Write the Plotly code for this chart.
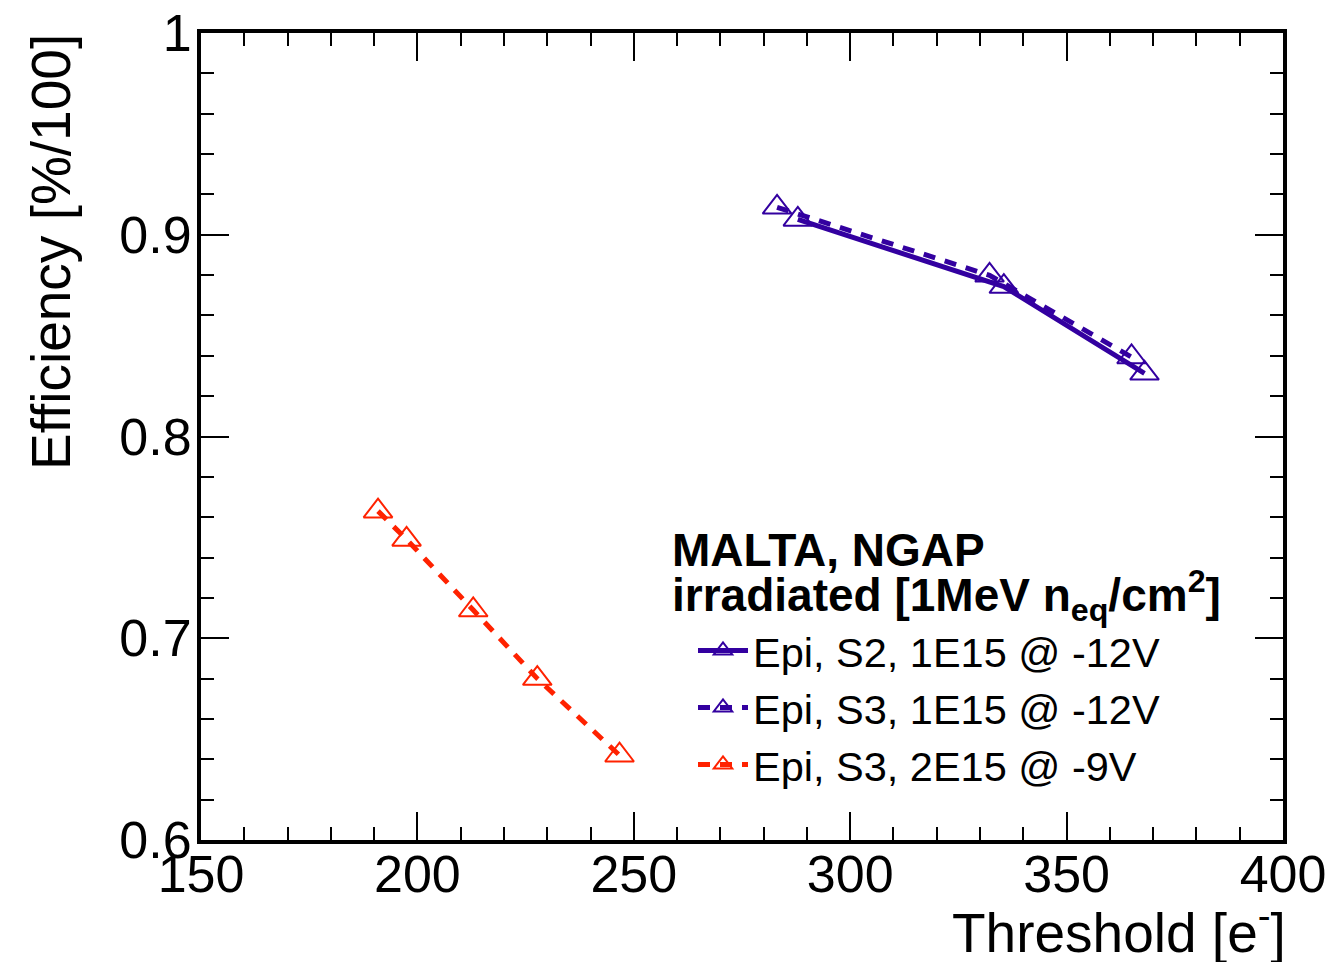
import plotly.graph_objects as go

# ---- data ----
s2_x = [287.9, 335.5, 368.0]
s2_y = [0.9076, 0.8743, 0.8313]
s3_x = [283.1, 332.2, 365.0]
s3_y = [0.9136, 0.8799, 0.8394]
r_x = [190.9, 197.5, 212.9, 227.7, 246.7]
r_y = [0.763, 0.749, 0.714, 0.680, 0.642]

names = ["Epi, S2, 1E15 @ -12V", "Epi, S3, 1E15 @ -12V", "Epi, S3, 2E15 @ -9V"]
x_ticks = [150, 200, 250, 300, 350, 400]
y_ticks = [0.6, 0.7, 0.8, 0.9, 1.0]
y_ticktext = ["0.6", "0.7", "0.8", "0.9", "1"]

BLUE = "#3300a0"
RED = "#ff2200"
FONT = "Liberation Sans, Arial, Helvetica, sans-serif"

W, H = 1338, 962
L, R, T, B = 201, 55, 33, 122
PW, PH = W - L - R, H - T - B


def px_x(p):
    return (p - L) / PW


def px_y(p):
    return (H - B - p) / PH


fig = go.Figure()
series = [
    (s3_x, s3_y, BLUE, "12px,10px", names[1], "g2"),
    (s2_x, s2_y, BLUE, "solid", names[0], "g1"),
    (r_x, r_y, RED, "12px,10px", names[2], "g3"),
]
for xs, ys, col, dash, nm, grp in series:
    fig.add_trace(go.Scatter(
        x=xs, y=ys, mode="lines+markers", name=nm, legendgroup=grp,
        line=dict(color=col, width=5, dash=dash),
        marker=dict(symbol="triangle-up-open", size=25, color=col,
                    line=dict(color=col, width=2)),
    ))

# legend order: S2, S3 (1E15), S3 (2E15)
fig.data[0].legendrank = 2
fig.data[1].legendrank = 1
fig.data[2].legendrank = 3

axis_common = dict(
    showline=True, linewidth=4, linecolor="black", mirror="allticks",
    ticks="inside", ticklen=28, tickwidth=1.5, tickcolor="black",
    showgrid=False, zeroline=False, automargin=False,
    tickfont=dict(family=FONT, size=52, color="black"),
)

fig.update_xaxes(
    range=[150, 400], tickvals=x_ticks, ticklabelstandoff=-14,
    minor=dict(dtick=10, ticks="inside", ticklen=13, tickwidth=1.5, tickcolor="black", showgrid=False),
    **axis_common,
)
fig.update_yaxes(
    range=[0.6, 1.0], tickvals=y_ticks, ticktext=y_ticktext, ticklabelstandoff=-5,
    minor=dict(dtick=0.02, ticks="inside", ticklen=13, tickwidth=1.5, tickcolor="black", showgrid=False),
    **axis_common,
)

annotations = [
    dict(text="Threshold [e<sup>-</sup>]", xref="paper", yref="paper", x=1, y=0,
         xanchor="right", yanchor="top", yshift=-52, xshift=5, showarrow=False,
         font=dict(family=FONT, size=55, color="black")),
    dict(text="Efficiency [%/100]", xref="paper", yref="paper", x=0, y=1,
         xanchor="center", yanchor="top", xshift=-150, yshift=1, textangle=-90, showarrow=False,
         font=dict(family=FONT, size=55, color="black")),
    dict(text="<b>MALTA, NGAP</b>", xref="paper", yref="paper", x=px_x(670), y=px_y(550),
         xanchor="left", yanchor="middle", showarrow=False,
         font=dict(family=FONT, size=46, color="black")),
    dict(text="<b>irradiated [1MeV n<sub>eq</sub>/cm<sup>2</sup>]</b>", xref="paper", yref="paper",
         x=px_x(670), y=px_y(595), xanchor="left", yanchor="middle", showarrow=False,
         font=dict(family=FONT, size=46, color="black")),
]

fig.update_layout(
    width=W, height=H,
    margin=dict(l=L, r=R, t=T, b=B, autoexpand=False),
    paper_bgcolor="white", plot_bgcolor="white",
    showlegend=True,
    legend=dict(x=px_x(693), y=px_y(617), xanchor="left", yanchor="top",
                font=dict(family=FONT, size=41.5, color="black"), itemwidth=50,
                bgcolor="rgba(0,0,0,0)", tracegroupgap=0, traceorder="grouped"),
    annotations=annotations,
)

fig.write_html("out.html")
